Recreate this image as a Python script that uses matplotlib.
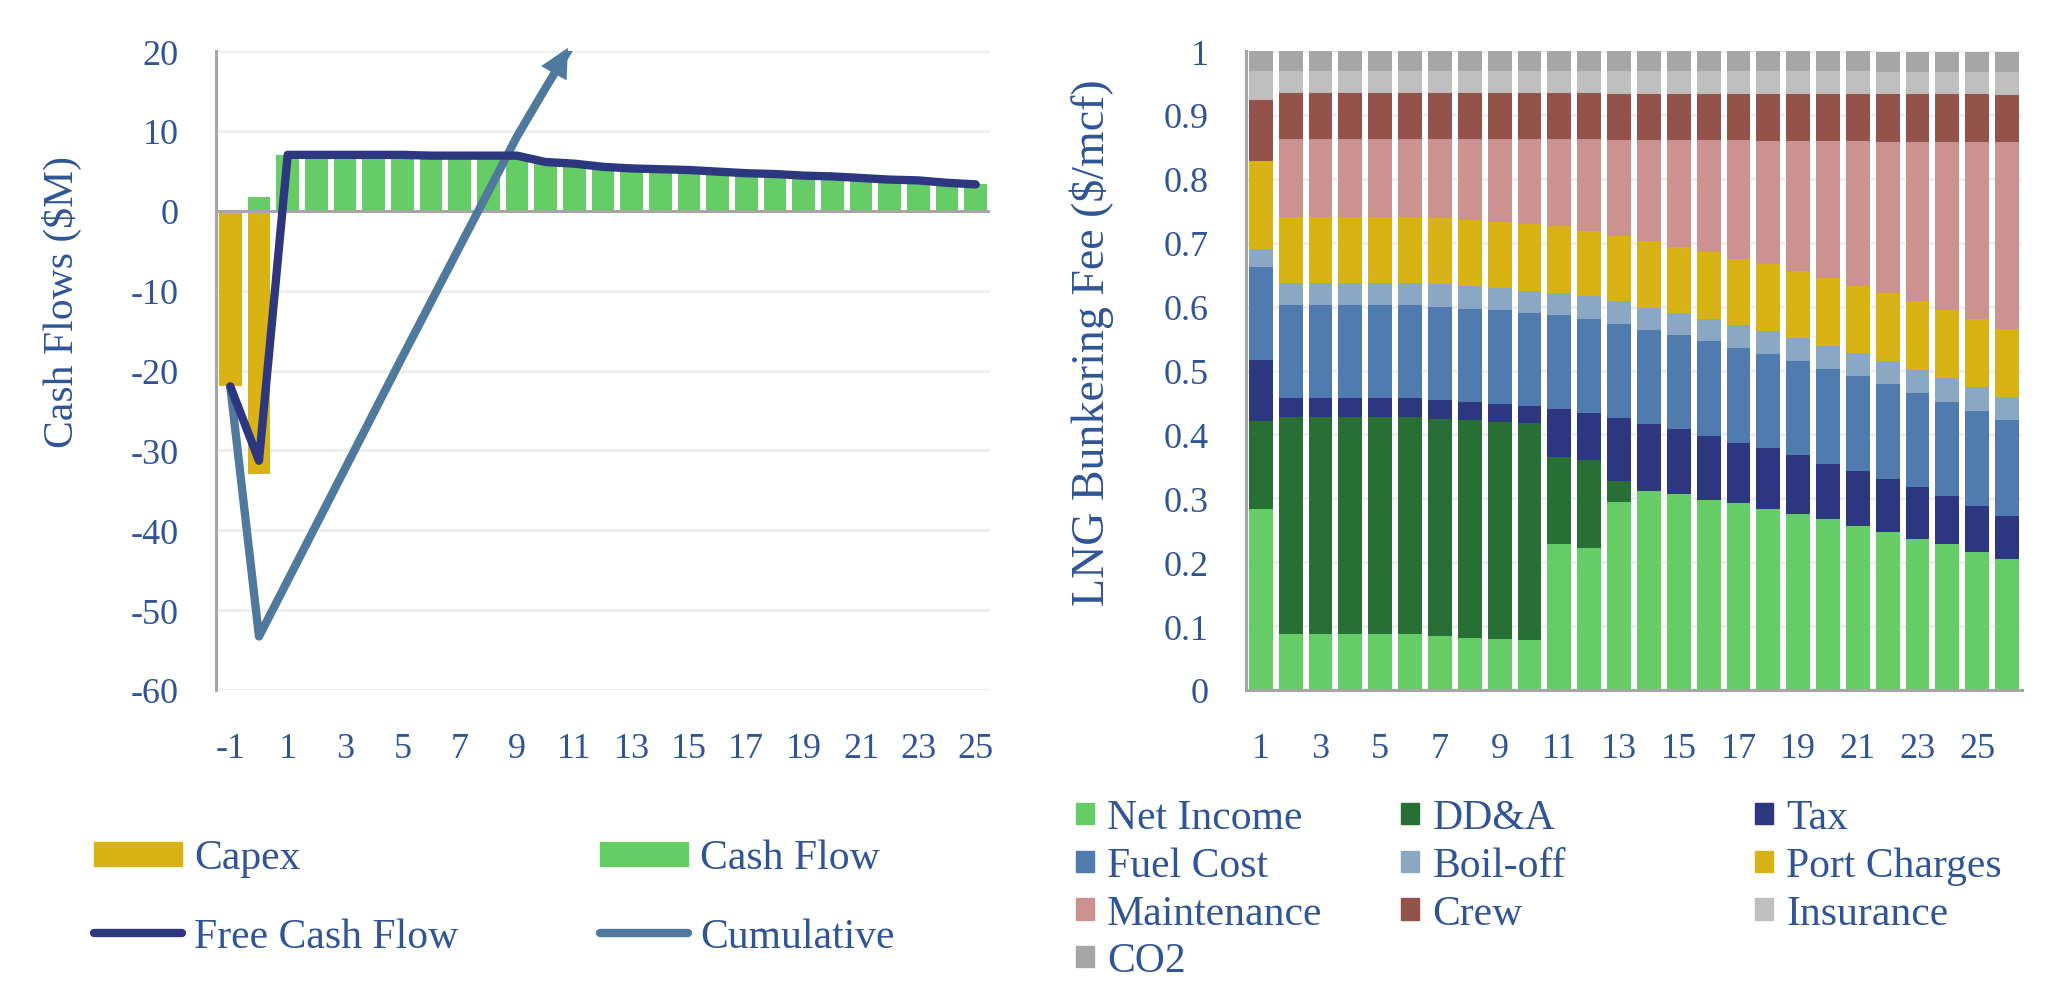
import matplotlib
matplotlib.use("Agg")
import matplotlib.pyplot as plt
import numpy as np
from matplotlib.lines import Line2D
from matplotlib.patches import Patch

# --- left chart: project cash flows ($M) ---
years = ["-1", "0"] + [str(y) for y in range(1, 26)]
capex = [-22.0, -33.0, 0, 0, 0, 0, 0, 0, 0, 0, 0, 0, 0, 0, 0, 0, 0, 0, 0, 0, 0, 0, 0, 0, 0, 0, 0]
cash_flow = [0.0, 1.7, 7.0, 7.0, 7.0, 7.0, 7.0, 6.9, 6.9, 6.9, 6.9, 6.1, 5.9, 5.5, 5.3,
             5.2, 5.1, 4.9, 4.7, 4.6, 4.4, 4.3, 4.1, 3.9, 3.8, 3.5, 3.3]
free_cash_flow = [-22.0, -31.3, 7.0, 7.0, 7.0, 7.0, 7.0, 6.9, 6.9, 6.9, 6.9, 6.1, 5.9, 5.5, 5.3,
                  5.2, 5.1, 4.9, 4.7, 4.6, 4.4, 4.3, 4.1, 3.9, 3.8, 3.5, 3.3]
cumulative = [-22.0, -53.3, -46.3, -39.3, -32.3, -25.3, -18.3, -11.4, -4.5, 2.4, 9.3, 15.4, 21.3,
              26.8, 32.1, 37.3, 42.4, 47.3, 52.0, 56.6, 61.0, 65.3, 69.4, 73.3, 77.1, 80.6, 83.9]

# --- right chart: bunkering fee build-up ($/mcf) ---
fee_years = [str(y) for y in range(1, 27)]
net_income = [0.284, 0.087, 0.087, 0.087, 0.087, 0.087, 0.085, 0.082, 0.080, 0.078, 0.228, 0.223, 0.294,
              0.312, 0.306, 0.298, 0.292, 0.284, 0.275, 0.267, 0.257, 0.248, 0.237, 0.228, 0.216, 0.205]
dda = [0.137, 0.341, 0.341, 0.341, 0.341, 0.341, 0.339, 0.341, 0.340, 0.340, 0.136, 0.137, 0.033,
       0, 0, 0, 0, 0, 0, 0, 0, 0, 0, 0, 0, 0]
tax = [0.095, 0.029, 0.029, 0.029, 0.029, 0.029, 0.030, 0.028, 0.028, 0.027, 0.076, 0.074, 0.099,
       0.105, 0.102, 0.100, 0.095, 0.094, 0.092, 0.087, 0.085, 0.082, 0.081, 0.075, 0.072, 0.068]
fuel_cost = [0.146, 0.146, 0.146, 0.146, 0.146, 0.146, 0.146, 0.145, 0.146, 0.145, 0.147, 0.146, 0.146,
             0.147, 0.147, 0.148, 0.148, 0.148, 0.148, 0.149, 0.149, 0.149, 0.147, 0.148, 0.149, 0.149]
boil_off = [0.028, 0.034, 0.034, 0.034, 0.034, 0.034, 0.036, 0.036, 0.035, 0.035, 0.035, 0.037, 0.036,
            0.034, 0.035, 0.034, 0.036, 0.036, 0.036, 0.036, 0.037, 0.036, 0.036, 0.038, 0.037, 0.037]
port_charges = [0.138, 0.104, 0.104, 0.104, 0.104, 0.104, 0.103, 0.103, 0.103, 0.104, 0.104, 0.101, 0.103,
                0.104, 0.104, 0.106, 0.104, 0.104, 0.104, 0.105, 0.105, 0.106, 0.107, 0.105, 0.106, 0.106]
maintenance = [0.0, 0.121, 0.121, 0.121, 0.121, 0.121, 0.123, 0.127, 0.130, 0.133, 0.136, 0.144, 0.150,
               0.159, 0.167, 0.175, 0.186, 0.193, 0.204, 0.215, 0.226, 0.236, 0.249, 0.263, 0.277, 0.292]
crew = [0.096, 0.072, 0.072, 0.072, 0.072, 0.072, 0.072, 0.072, 0.072, 0.072, 0.072, 0.072, 0.072,
        0.072, 0.072, 0.072, 0.072, 0.074, 0.074, 0.074, 0.074, 0.075, 0.075, 0.075, 0.075, 0.074]
insurance = [0.045, 0.035, 0.035, 0.035, 0.035, 0.035, 0.035, 0.035, 0.035, 0.035, 0.035, 0.035, 0.035,
             0.035, 0.035, 0.035, 0.035, 0.035, 0.035, 0.035, 0.035, 0.035, 0.035, 0.035, 0.035, 0.036]
co2 = [0.031, 0.032, 0.032, 0.032, 0.032, 0.032, 0.032, 0.032, 0.032, 0.032, 0.032, 0.032, 0.032,
       0.032, 0.032, 0.032, 0.032, 0.032, 0.032, 0.032, 0.032, 0.032, 0.032, 0.032, 0.032, 0.032]

fee_series = [
    ("Net Income", net_income, "#66CC66"),
    ("DD&A", dda, "#276F35"),
    ("Tax", tax, "#2C3780"),
    ("Fuel Cost", fuel_cost, "#4F7BAE"),
    ("Boil-off", boil_off, "#8AA8C4"),
    ("Port Charges", port_charges, "#D9B316"),
    ("Maintenance", maintenance, "#CC9290"),
    ("Crew", crew, "#93524A"),
    ("Insurance", insurance, "#BFBFBF"),
    ("CO2", co2, "#A6A6A6"),
]

TEXT = "#2F5597"
GRID = "#EFEFEF"
AXIS = "#A6A6A6"
CAPEX_C = "#D9B316"
CASH_C = "#66CC66"
FCF_C = "#2C3780"
CUM_C = "#4F7A9E"

plt.rcParams["font.family"] = ["Liberation Serif", "DejaVu Serif"]
plt.rcParams["axes.unicode_minus"] = False
TICK_FS = 26
LABEL_FS = 30
LEG_FS = 30

fig = plt.figure(figsize=(20.57, 9.87), dpi=100)


def style_axis(ax):
    for side in ("top", "right"):
        ax.spines[side].set_visible(False)
    ax.spines["left"].set_color(AXIS)
    ax.spines["left"].set_linewidth(2.2)
    ax.tick_params(length=0, labelsize=TICK_FS, labelcolor=TEXT)
    ax.tick_params(axis="y", pad=27)
    ax.tick_params(axis="x", pad=30)
    ax.grid(axis="y", color=GRID, lw=2.2)
    ax.set_axisbelow(True)


# ---------------- left panel ----------------
axl = fig.add_axes([0.1050, 0.2999, 0.3763, 0.6474])
x = np.arange(len(years))
axl.bar(x, capex, width=0.8, color=CAPEX_C, zorder=2)
axl.bar(x, cash_flow, width=0.8, color=CASH_C, zorder=2)
axl.axhline(0, color=AXIS, lw=2.2, zorder=3)
axl.plot(x, free_cash_flow, color=FCF_C, lw=6, solid_capstyle="round",
         solid_joinstyle="round", zorder=5)
axl.plot(x, cumulative, color=CUM_C, lw=6, solid_capstyle="round",
         solid_joinstyle="round", zorder=4)
ymin, ymax = -60, 20
axl.set_ylim(ymin, ymax)
axl.set_xlim(-0.5, len(years) - 0.5)

# arrow head where the cumulative line leaves the plot
cum = np.array(cumulative)
i = int(np.argmax(cum > ymax))
xc = (i - 1) + (ymax - cum[i - 1]) / (cum[i] - cum[i - 1])
axl.annotate("", xy=(xc, ymax + 0.4), xytext=(i - 1, cum[i - 1]),
             arrowprops=dict(arrowstyle="-|>,head_length=0.5,head_width=0.25",
                             mutation_scale=42, color=CUM_C, lw=0,
                             shrinkA=0, shrinkB=0),
             annotation_clip=False, zorder=6)

style_axis(axl)
axl.spines["bottom"].set_visible(False)
axl.set_yticks(np.arange(-60, 21, 10))
axl.set_xticks(x[::2])
axl.set_xticklabels(years[::2])
fig.text(62 / 2057, 1 - 302 / 987, "Cash Flows ($M)", rotation=90, ha="center",
         va="center", fontsize=LABEL_FS, color=TEXT)

# ---------------- right panel ----------------
axr = fig.add_axes([0.6057, 0.2999, 0.3773, 0.6474])
xr = np.arange(len(fee_years))
bottom = np.zeros(len(fee_years))
for name, vals, col in fee_series:
    axr.bar(xr, vals, bottom=bottom, width=0.8, color=col, zorder=2)
    bottom += np.array(vals)
axr.set_ylim(0, 1)
axr.set_xlim(-0.5, len(fee_years) - 0.5)
style_axis(axr)
axr.spines["bottom"].set_color(AXIS)
axr.spines["bottom"].set_linewidth(2.2)
axr.set_yticks(np.arange(0, 1.01, 0.1))
axr.yaxis.set_major_formatter(plt.FuncFormatter(
    lambda v, p: f"{v:.0f}" if abs(v - round(v)) < 1e-9 else f"{v:.1f}"))
axr.set_xticks(xr[::2])
axr.set_xticklabels(fee_years[::2])
fig.text(1092 / 2057, 1 - 343 / 987, "LNG Bunkering Fee ($/mcf)", rotation=90, ha="center",
         va="center", fontsize=33, color=TEXT)


# ---------------- legends ----------------
def column_legend(handles, labels, x0, ytop, **kw):
    leg = fig.legend(handles, labels, loc="upper left", bbox_to_anchor=(x0, ytop),
                     bbox_transform=fig.transFigure, frameon=False, borderpad=0,
                     borderaxespad=0, fontsize=LEG_FS, labelcolor=TEXT, **kw)
    return leg


left_kw = dict(handlelength=2.1, handleheight=0.5, handletextpad=0.3, labelspacing=0.95)
column_legend([Patch(color=CAPEX_C), Line2D([], [], color=FCF_C, lw=6, solid_capstyle="round")],
              ["Capex", "Free Cash Flow"], 94 / 2057, 1 - 840 / 987, **left_kw)
column_legend([Patch(color=CASH_C), Line2D([], [], color=CUM_C, lw=6, solid_capstyle="round")],
              ["Cash Flow", "Cumulative"], 600 / 2057, 1 - 840 / 987, **left_kw)

right_kw = dict(handlelength=0.42, handleheight=0.42, handletextpad=0.33, labelspacing=0.22)
cols = [[0, 3, 6, 9], [1, 4, 7], [2, 5, 8]]
for cx, idx in zip([1076, 1401, 1755], cols):
    column_legend([Patch(color=fee_series[k][2]) for k in idx],
                  [fee_series[k][0] for k in idx], cx / 2057, 1 - 800 / 987, **right_kw)

fig.savefig("out.png", dpi=100, facecolor="white")
